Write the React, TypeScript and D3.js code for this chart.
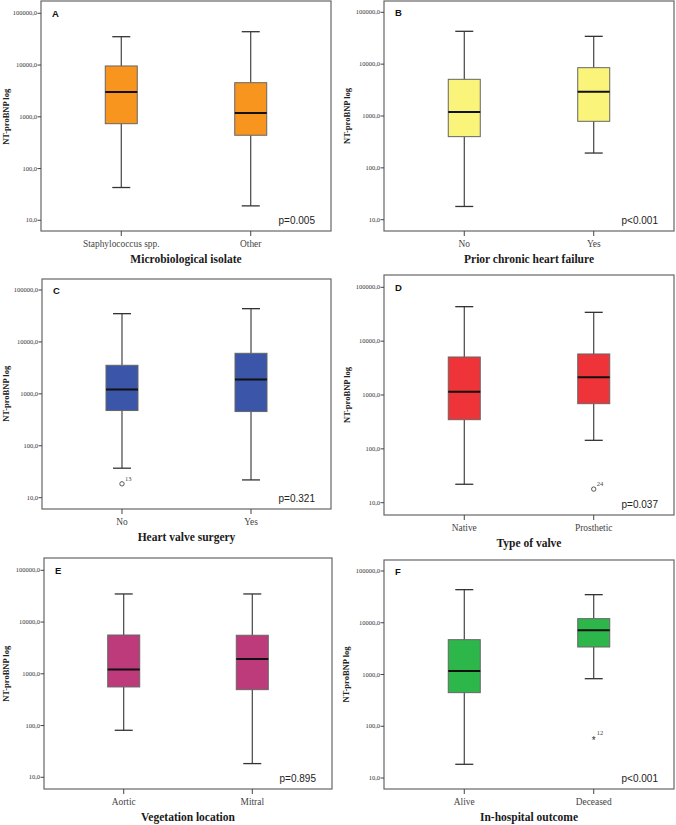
import React from "react";
import * as d3 from "d3";

// ---------- data ----------
const panelLetters = ["A", "B", "C", "D", "E", "F"];
const panelTitles = [
  "Microbiological isolate",
  "Prior chronic heart failure",
  "Heart valve surgery",
  "Type of valve",
  "Vegetation location",
  "In-hospital outcome",
];
const panelCategories = [
  ["Staphylococcus spp.", "Other"],
  ["No", "Yes"],
  ["No", "Yes"],
  ["Native", "Prosthetic"],
  ["Aortic", "Mitral"],
  ["Alive", "Deceased"],
];
const whiskerLow = [[43, 19], [18, 193], [37, 22], [22, 144], [81, 18.4], [18.4, 830]];
const quartile1 = [[736, 440], [400, 790], [477, 456], [348, 690], [557, 494], [446, 3400]];
const medians = [[3010, 1184], [1190, 2940], [1208, 1880], [1153, 2130], [1205, 1935], [1169, 7130]];
const quartile3 = [[9600, 4560], [5100, 8550], [3550, 6040], [5080, 5780], [5620, 5560], [4710, 12000]];
const whiskerHigh = [[35300, 44100], [43000, 34400], [35000, 43700], [43700, 34300], [34900, 34900], [43600, 34900]];
// outliers: [categoryIndex, value, case label, symbol]
const panelOutliers: [number, number, string, string][][] = [
  [],
  [],
  [[0, 18.5, "13", "circle"]],
  [[1, 17.9, "24", "circle"]],
  [],
  [[1, 59, "12", "star"]],
];
const pValues = ["p=0.005", "p<0.001", "p=0.321", "p=0.037", "p=0.895", "p<0.001"];
const yTicks = [10, 100, 1000, 10000, 100000];
const yAxisTitle = "NT-proBNP log";

// ---------- layout / style ----------
const fills = ["#F7951E", "#FBF47A", "#3B55A8", "#EE3339", "#BD3B7B", "#2DB74B"];
// frame left, right, top, bottom, y of tick 100000, y of tick 10, y-title x
const layouts = [
  { x0: 41, x1: 331, y0: 1, y1: 231, t0: 13.3, t1: 220.3, tx: 6 },
  { x0: 384, x1: 674, y0: 1, y1: 231, t0: 12.3, t1: 219.7, tx: 347 },
  { x0: 42, x1: 331, y0: 279, y1: 509, t0: 290, t1: 497.7, tx: 6 },
  { x0: 384, x1: 674, y0: 275, y1: 515, t0: 287.3, t1: 502.7, tx: 347 },
  { x0: 44, x1: 332, y0: 558, y1: 789, t0: 570.3, t1: 777.3, tx: 6 },
  { x0: 384, x1: 674, y0: 560, y1: 789, t0: 571, t1: 778, tx: 346 },
];

const fmt = (v: number) => d3.format(".1f")(v).replace(".", ",");
const serif = "'Liberation Serif', 'DejaVu Serif', serif";
const sans = "'Liberation Sans', Arial, sans-serif";

function Panel({ i }: { i: number }) {
  const L = layouts[i];
  const cats = panelCategories[i];
  const x = d3.scalePoint<string>().domain(cats).range([L.x0, L.x1]).padding(0.62);
  const y = d3.scaleLog().domain([10, 100000]).range([L.t1, L.t0]);
  const boxW = 32;
  const capW = 18;
  return (
    <g>
      {/* frame */}
      <rect x={L.x0} y={L.y0} width={L.x1 - L.x0} height={L.y1 - L.y0} fill="#fff" stroke="#666" strokeWidth={1.2} />
      {/* y axis */}
      {yTicks.map((t) => (
        <g key={t}>
          <line x1={L.x0 - 3.5} x2={L.x0} y1={y(t)} y2={y(t)} stroke="#444" strokeWidth={1} />
          <text x={L.x0 - 4} y={y(t)} dy="0.33em" textAnchor="end" fontFamily={serif} fontSize={6.5} fill="#333">
            {fmt(t)}
          </text>
        </g>
      ))}
      <text
        transform={`translate(${L.tx},${y(1000)}) rotate(-90)`}
        dy="0.35em"
        textAnchor="middle"
        fontFamily={serif}
        fontWeight="bold"
        fontSize={8.5}
        fill="#222"
      >
        {yAxisTitle}
      </text>
      {/* x axis */}
      {cats.map((c) => (
        <g key={c}>
          <line x1={x(c)!} x2={x(c)!} y1={L.y1} y2={L.y1 + 5} stroke="#444" strokeWidth={1} />
          <text x={x(c)!} y={L.y1 + 15.5} textAnchor="middle" fontFamily={serif} fontSize={9.4} fill="#444">
            {c}
          </text>
        </g>
      ))}
      <text x={(L.x0 + L.x1) / 2} y={L.y1 + 32} textAnchor="middle" fontFamily={serif} fontWeight="bold" fontSize={11.5} fill="#1a1a1a">
        {panelTitles[i]}
      </text>
      {/* boxes */}
      {cats.map((c, k) => {
        const cx = x(c)!;
        return (
          <g key={"b" + c}>
            <line x1={cx} x2={cx} y1={y(whiskerHigh[i][k])} y2={y(quartile3[i][k])} stroke="#333" strokeWidth={1.1} />
            <line x1={cx} x2={cx} y1={y(quartile1[i][k])} y2={y(whiskerLow[i][k])} stroke="#333" strokeWidth={1.1} />
            <line x1={cx - capW / 2} x2={cx + capW / 2} y1={y(whiskerHigh[i][k])} y2={y(whiskerHigh[i][k])} stroke="#333" strokeWidth={1.3} />
            <line x1={cx - capW / 2} x2={cx + capW / 2} y1={y(whiskerLow[i][k])} y2={y(whiskerLow[i][k])} stroke="#333" strokeWidth={1.3} />
            <rect
              x={cx - boxW / 2}
              y={y(quartile3[i][k])}
              width={boxW}
              height={y(quartile1[i][k]) - y(quartile3[i][k])}
              fill={fills[i]}
              stroke="#666"
              strokeWidth={1}
            />
            <line x1={cx - boxW / 2} x2={cx + boxW / 2} y1={y(medians[i][k])} y2={y(medians[i][k])} stroke="#111" strokeWidth={2} />
          </g>
        );
      })}
      {/* outliers */}
      {panelOutliers[i].map(([k, v, lab, sym], j) => {
        const cx = x(cats[k])!;
        const cy = y(v);
        return (
          <g key={"o" + j}>
            {sym === "circle" ? (
              <circle cx={cx} cy={cy} r={2.2} fill="none" stroke="#444" strokeWidth={0.9} />
            ) : (
              <text x={cx} y={cy} dy="0.62em" textAnchor="middle" fontFamily={sans} fontSize={10} fill="#333">
                *
              </text>
            )}
            <text x={cx + 3} y={cy - 3} fontFamily={serif} fontSize={6.5} fill="#444">
              {lab}
            </text>
          </g>
        );
      })}
      {/* panel letter */}
      <text x={L.x0 + 11} y={L.t0 + 3.5} fontFamily={sans} fontWeight="bold" fontSize={9.5} fill="#111">
        {panelLetters[i]}
      </text>
      {/* p-value */}
      <text x={L.x1 - 16} y={L.y1 - 7.5} textAnchor="end" fontFamily={sans} fontSize={10} fill="#222">
        {pValues[i]}
      </text>
    </g>
  );
}

export default function App() {
  return (
    <svg
      width={676}
      height={825}
      viewBox="0 0 676 825"
      style={{ position: "absolute", left: 0, top: 0, background: "#fff" }}
    >
      <rect x={0} y={0} width={676} height={825} fill="#fff" />
      {panelLetters.map((_, i) => (
        <Panel key={i} i={i} />
      ))}
    </svg>
  );
}
